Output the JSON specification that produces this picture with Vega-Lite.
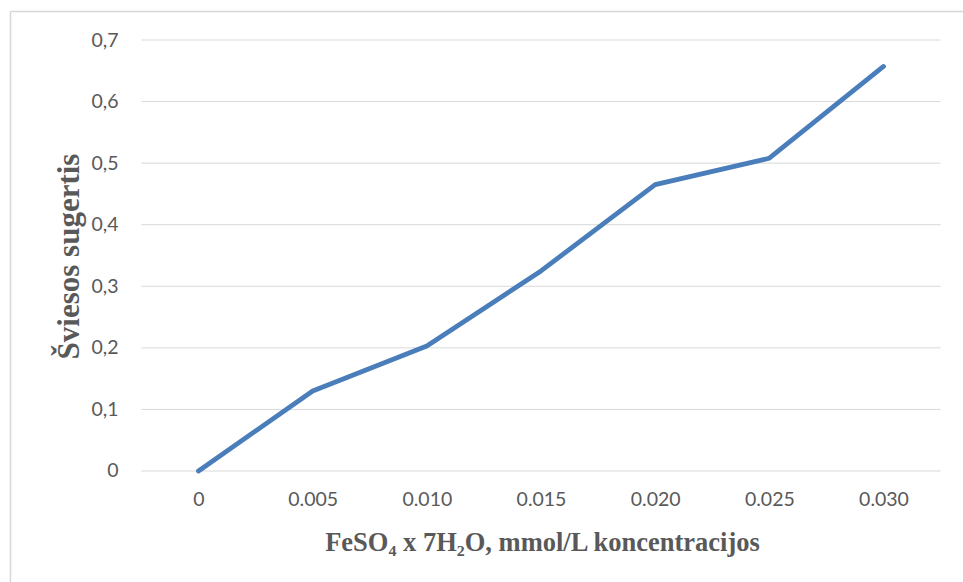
{
  "$schema": "https://vega.github.io/schema/vega-lite/v6.json",
  "width": 963,
  "height": 582,
  "autosize": {"type": "fit", "contains": "padding"},
  "padding": {"left": 10, "top": 11, "right": 0, "bottom": 0},
  "background": "#ffffff",
  "config": {
    "view": {"stroke": null, "fill": "#ffffff"}
  },
  "datasets": {
    "absorbance": [
      {"koncentracija": 0.0, "sugertis": 0.0},
      {"koncentracija": 0.005, "sugertis": 0.13},
      {"koncentracija": 0.01, "sugertis": 0.203},
      {"koncentracija": 0.015, "sugertis": 0.325},
      {"koncentracija": 0.02, "sugertis": 0.465},
      {"koncentracija": 0.025, "sugertis": 0.508},
      {"koncentracija": 0.03, "sugertis": 0.657}
    ],
    "gridlines": [
      {"lygis": 0.0},
      {"lygis": 0.1},
      {"lygis": 0.2},
      {"lygis": 0.3},
      {"lygis": 0.4},
      {"lygis": 0.5},
      {"lygis": 0.6},
      {"lygis": 0.7}
    ]
  },
  "resolve": {"axis": {"x": "independent", "y": "independent"}},
  "layer": [
    {
      "data": {"name": "gridlines"},
      "mark": {"type": "rule", "color": "#d9d9d9", "strokeWidth": 1},
      "encoding": {
        "y": {
          "field": "lygis",
          "type": "quantitative",
          "scale": {"domain": [-0.18028, 0.7471], "nice": false, "zero": false},
          "axis": {
            "orient": "left",
            "offset": 0,
            "domain": true,
            "domainColor": "#d6d6d6",
            "domainWidth": 1.5,
            "labels": false,
            "ticks": false,
            "grid": false,
            "title": null
          }
        },
        "x": {
          "datum": -0.0025,
          "type": "quantitative",
          "scale": {"domain": [-0.008256, 0.033482], "nice": false, "zero": false},
          "axis": {
            "orient": "top",
            "offset": 0,
            "domain": true,
            "domainColor": "#d6d6d6",
            "domainWidth": 1.5,
            "labels": false,
            "ticks": false,
            "grid": false,
            "title": null
          }
        },
        "x2": {"datum": 0.0325}
      }
    },
    {
      "data": {"name": "absorbance"},
      "mark": {
        "type": "line",
        "color": "#4a7ebb",
        "strokeWidth": 4.8,
        "strokeCap": "round",
        "strokeJoin": "round"
      },
      "encoding": {
        "x": {
          "field": "koncentracija",
          "type": "quantitative",
          "scale": {"domain": [-0.008256, 0.033482], "nice": false, "zero": false},
          "axis": {
            "orient": "bottom",
            "offset": -111,
            "values": [0, 0.005, 0.01, 0.015, 0.02, 0.025, 0.03],
            "labelExpr": "datum.value == 0 ? '0' : format(datum.value, '.3f')",
            "domain": false,
            "ticks": false,
            "tickSize": 0,
            "grid": false,
            "labelPadding": 19,
            "labelFont": "Lato",
            "labelFontSize": 19.5,
            "labelColor": "#595959",
            "title": "FeSO₄ x 7H₂O, mmol/L koncentracijos",
            "titleFont": "Liberation Serif",
            "titleFontWeight": "bold",
            "titleFontSize": 26.5,
            "titleColor": "#595959",
            "titleX": 532,
            "titleY": 79,
            "titleAlign": "center",
            "titleBaseline": "alphabetic"
          }
        },
        "y": {
          "field": "sugertis",
          "type": "quantitative",
          "scale": {"domain": [-0.18028, 0.7471], "nice": false, "zero": false},
          "axis": {
            "orient": "left",
            "offset": -131,
            "values": [0, 0.1, 0.2, 0.3, 0.4, 0.5, 0.6, 0.7],
            "labelExpr": "datum.value == 0 ? '0' : replace(format(datum.value, '.1f'), '.', ',')",
            "domain": false,
            "ticks": false,
            "tickSize": 0,
            "grid": false,
            "labelPadding": 23,
            "labelFont": "Lato",
            "labelFontSize": 19.5,
            "labelColor": "#595959",
            "labelBaseline": "middle",
            "title": "Šviesos sugertis",
            "titleFont": "Liberation Serif",
            "titleFontWeight": "bold",
            "titleFontSize": 31,
            "titleColor": "#595959",
            "titleAngle": 270,
            "titleX": -63,
            "titleY": 245,
            "titleAlign": "center",
            "titleBaseline": "alphabetic"
          }
        }
      }
    }
  ]
}
